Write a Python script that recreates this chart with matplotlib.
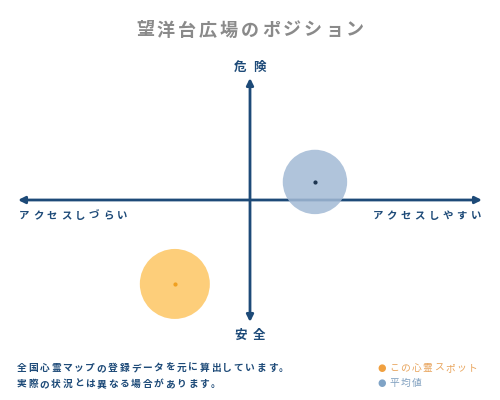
import matplotlib
matplotlib.use("Agg")
import matplotlib.pyplot as plt

plt.rcParams['font.family'] = ['Noto Sans CJK JP', 'DejaVu Sans']

# chart data (0-100 scale, 50 = centre of each axis)
title = "望洋台広場のポジション"
label_top = "危険"
label_bottom = "安全"
label_left = "アクセスしづらい"
label_right = "アクセスしやすい"
series_names = ["この心霊スポット", "平均値"]
series_x = [33.8, 64.0]
series_y = [15.6, 57.4]
notes = ["全国心霊マップの登録データを元に算出しています。",
         "実際の状況とは異なる場合があります。"]

navy = "#1d4a78"
fill_colors = ["#fdc663", "#a3bad5"]
dot_colors = ["#f0a020", "#1d3550"]
legend_colors = ["#f0a040", "#7fa3c6"]
text_colors = ["#e8a35a", "#7f9fbf"]

W, H = 500, 400
fig = plt.figure(figsize=(5, 4), dpi=100)
fig.patch.set_facecolor("white")


def spaced(x, y, s, pitch, size, ha="left", **kw):
    # place full-width characters one by one with a fixed pitch (pixels)
    em = size * 100 / 72
    total = (len(s) - 1) * pitch + em
    if ha == "center":
        x = x - total / 2
    elif ha == "right":
        x = x - total
    for i, ch in enumerate(s):
        fig.text((x + i * pitch) / W, 1 - y / H, ch, ha="left", va="center",
                 fontsize=size, **kw)


# axes spans the area between the arrow tips
ax = fig.add_axes([18 / W, 1 - 322 / H, 464 / W, 244 / H])
ax.set_xlim(0, 100)
ax.set_ylim(0, 100)
ax.axis("off")

# quadrant arrows
arrow = dict(arrowstyle="-|>", color=navy, lw=2, mutation_scale=10,
             shrinkA=0, shrinkB=0)
ax.annotate("", xy=(100, 50), xytext=(50, 50), arrowprops=arrow)
ax.annotate("", xy=(0, 50), xytext=(50, 50), arrowprops=arrow)
ax.annotate("", xy=(50, 100), xytext=(50, 50), arrowprops=arrow)
ax.annotate("", xy=(50, 0), xytext=(50, 50), arrowprops=arrow)

# bubbles
sizes = [2540, 2150]
for i in range(len(series_x)):
    ax.scatter(series_x[i], series_y[i], s=sizes[i], color=fill_colors[i],
               alpha=0.85, edgecolors="none", zorder=3)
    ax.scatter(series_x[i], series_y[i], s=4, color=dot_colors[i], zorder=4)

# texts
spaced(250, 30, title, 21, 13, ha="center", color="#8a8a8a", fontweight="bold")
spaced(250, 67, label_top, 19, 9, ha="center", color=navy, fontweight="bold")
spaced(250, 335, label_bottom, 19, 9, ha="center", color=navy, fontweight="bold")
spaced(19, 216, label_left, 14, 7.5, color=navy, fontweight="bold")
spaced(481, 216, label_right, 14, 7.5, ha="right", color=navy, fontweight="bold")

for i, line in enumerate(notes):
    spaced(17, 368 + 16 * i, line, 11.4, 7, color=navy, fontweight="bold")

for i, name in enumerate(series_names):
    yy = 368 + 15 * i
    fig.text(382 / W, 1 - yy / H, "●", ha="center", va="center", fontsize=7,
             color=legend_colors[i], family=["DejaVu Sans"])
    spaced(389, yy, name, 11.2, 7, color=text_colors[i])

fig.savefig("out.png", dpi=100)
